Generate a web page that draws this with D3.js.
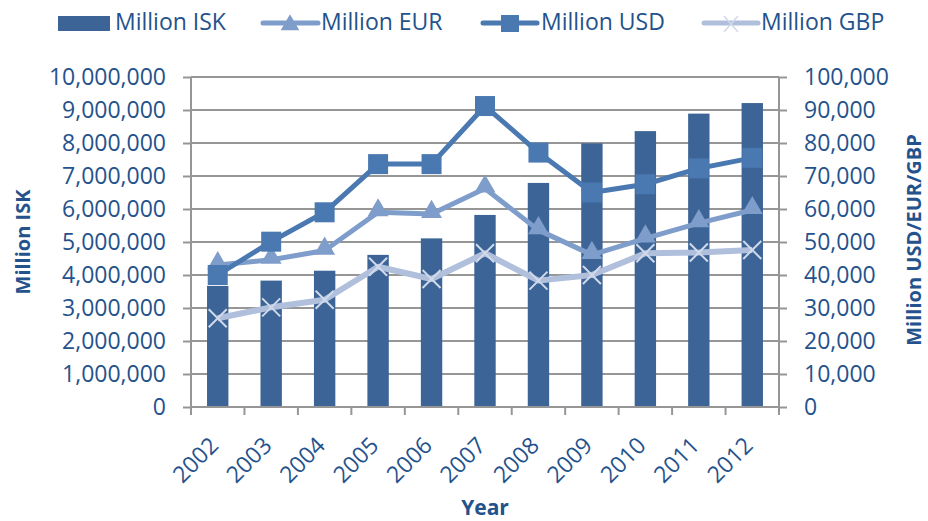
<!DOCTYPE html>
<html lang="en">
<head>
<meta charset="utf-8">
<style>
  body { margin: 0; background: #fff; }
  text { font-family: "Open Sans", sans-serif; fill: #24528c; }
  .grid line { stroke: #969696; stroke-width: 2px; }
</style>
</head>
<body>
<script src="https://cdn.jsdelivr.net/npm/d3@7"></script>
<script>
    // data
    var years = ["2002","2003","2004","2005","2006","2007","2008","2009","2010","2011","2012"];
    var isk = [3670000, 3830000, 4130000, 4610000, 5110000, 5820000, 6790000, 7990000, 8360000, 8890000, 9210000];
    var eur = [43000, 44600, 47400, 59000, 58500, 66200, 53600, 46100, 51100, 55700, 59700];
    var usd = [40000, 50100, 59000, 73600, 73600, 91200, 77100, 65000, 67500, 72300, 75500];
    var gbp = [26900, 30200, 32500, 42500, 38800, 46600, 38300, 40000, 46600, 46800, 47600];
    var leftTicks = [0,1e6,2e6,3e6,4e6,5e6,6e6,7e6,8e6,9e6,10e6];
    var rightTicks = [0,10000,20000,30000,40000,50000,60000,70000,80000,90000,100000];

    var width = 928, height = 521;
    var plot = {left: 191, right: 779, top: 77, bottom: 407};

    var colBar = "#3c6496", colEur = "#7f9dca", colUsd = "#4a78b1", colGbp = "#b0c0dc", colGbpMark = "#d0daeb";

    var svg = d3.select("body").append("svg")
        .attr("width", width)
        .attr("height", height);

    var x = d3.scaleBand().domain(years).range([plot.left, plot.right]).paddingInner(0.6).paddingOuter(0.3);
    var xc = function (d) { return x(d) + x.bandwidth() / 2; };
    var yL = d3.scaleLinear().domain([0, 10e6]).range([plot.bottom, plot.top]);
    var yR = d3.scaleLinear().domain([0, 100000]).range([plot.bottom, plot.top]);
    var fmt = d3.format(",");

    // gridlines
    svg.append("g").attr("class", "grid")
        .selectAll("line").data(leftTicks).enter().append("line")
        .attr("x1", plot.left).attr("x2", plot.right)
        .attr("y1", function (d) { return yL(d); }).attr("y2", function (d) { return yL(d); });

    // bars
    svg.append("g").selectAll("rect").data(years).enter().append("rect")
        .attr("x", function (d) { return x(d); })
        .attr("width", x.bandwidth())
        .attr("y", function (d, i) { return yL(isk[i]); })
        .attr("height", function (d, i) { return plot.bottom - yL(isk[i]); })
        .attr("fill", colBar);

    // axes
    var axL = svg.append("g").attr("transform", "translate(" + plot.left + ",0)")
        .call(d3.axisLeft(yL).tickValues(leftTicks).tickFormat(fmt).tickSize(8).tickPadding(17));
    var axR = svg.append("g").attr("transform", "translate(" + plot.right + ",0)")
        .call(d3.axisRight(yR).tickValues(rightTicks).tickFormat(fmt).tickSize(8).tickPadding(17));
    var xEdges = years.map(function (d) { return x(d) - x.step() * 0.3; }).concat([plot.right]);
    var axB = svg.append("g").attr("transform", "translate(0," + plot.bottom + ")");
    axB.append("line").attr("x1", plot.left).attr("x2", plot.right);
    axB.selectAll(".tk").data(xEdges).enter().append("line")
        .attr("x1", function (d) { return d; }).attr("x2", function (d) { return d; })
        .attr("y1", 0).attr("y2", 8);
    axB.selectAll("text").data(years).enter().append("text")
        .attr("transform", function (d) { return "translate(" + (xc(d) + 2) + ",40) rotate(-45)"; })
        .attr("text-anchor", "end")
        .style("font-size", "23px")
        .text(function (d) { return d; });
    axB.selectAll("line").attr("stroke", "#969696").attr("stroke-width", 2);

    [axL, axR].forEach(function (a) {
        a.select(".domain").remove();
        a.append("line").attr("y1", plot.top).attr("y2", plot.bottom).attr("stroke", "#969696").attr("stroke-width", 2);
        a.selectAll(".tick line").attr("stroke", "#969696").attr("stroke-width", 2);
        a.selectAll(".tick text").style("font-size", "23px").style("font-family", "'Open Sans', sans-serif").attr("fill", "#24528c");
    });

    // axis titles
    svg.append("text").attr("transform", "translate(30,242) rotate(-90)")
        .attr("text-anchor", "middle").style("font-size", "20px").style("font-weight", "bold")
        .text("Million ISK");
    svg.append("text").attr("transform", "translate(921,240) rotate(-90)")
        .attr("text-anchor", "middle").style("font-size", "20px").style("font-weight", "bold")
        .text("Million USD/EUR/GBP");
    svg.append("text").attr("x", 485).attr("y", 515)
        .attr("text-anchor", "middle").style("font-size", "21px").style("font-weight", "bold")
        .text("Year");

    // lines
    function drawLine(vals, color, w) {
        var line = d3.line().x(function (d, i) { return xc(years[i]); }).y(function (d) { return yR(d); });
        svg.append("path").datum(vals).attr("d", line)
            .attr("fill", "none").attr("stroke", color).attr("stroke-width", w).attr("stroke-linejoin", "round");
    }
    var tri = d3.symbol().type(d3.symbolTriangle).size(190);
    var xMark = "M-9,-9L9,9M-9,9L9,-9";

    drawLine(eur, colEur, 5);
    svg.append("g").selectAll("path").data(eur).enter().append("path")
        .attr("d", tri)
        .attr("transform", function (d, i) { return "translate(" + xc(years[i]) + "," + (yR(d) - 2) + ")"; })
        .attr("fill", colEur);

    drawLine(usd, colUsd, 5);
    svg.append("g").selectAll("rect").data(usd).enter().append("rect")
        .attr("x", function (d, i) { return xc(years[i]) - 10; })
        .attr("y", function (d) { return yR(d) - 10; })
        .attr("width", 20).attr("height", 20)
        .attr("fill", colUsd);

    drawLine(gbp, colGbp, 6);
    svg.append("g").selectAll("path").data(gbp).enter().append("path")
        .attr("d", xMark)
        .attr("transform", function (d, i) { return "translate(" + xc(years[i]) + "," + yR(d) + ")"; })
        .attr("stroke", colGbpMark).attr("stroke-width", 2).attr("fill", "none");

    // legend
    var lg = svg.append("g");
    lg.append("rect").attr("x", 58).attr("y", 16).attr("width", 52).attr("height", 15).attr("fill", colBar);
    lg.append("text").attr("x", 115).attr("y", 30).style("font-size", "23px").text("Million ISK");

    lg.append("line").attr("x1", 263).attr("x2", 318).attr("y1", 23).attr("y2", 23)
        .attr("stroke", colEur).attr("stroke-width", 5).attr("stroke-linecap", "round");
    lg.append("path").attr("d", d3.symbol().type(d3.symbolTriangle).size(150)).attr("transform", "translate(290,25)").attr("fill", colEur);
    lg.append("text").attr("x", 321).attr("y", 30).style("font-size", "23px").text("Million EUR");

    lg.append("line").attr("x1", 483).attr("x2", 537).attr("y1", 23).attr("y2", 23)
        .attr("stroke", colUsd).attr("stroke-width", 5).attr("stroke-linecap", "round");
    lg.append("rect").attr("x", 501).attr("y", 15).attr("width", 18).attr("height", 17).attr("fill", colUsd);
    lg.append("text").attr("x", 541).attr("y", 30).style("font-size", "23px").text("Million USD");

    lg.append("line").attr("x1", 704).attr("x2", 758).attr("y1", 23).attr("y2", 23)
        .attr("stroke", colGbp).attr("stroke-width", 5).attr("stroke-linecap", "round");
    lg.append("path").attr("d", "M-7,-8L7,8M-7,8L7,-8").attr("transform", "translate(731,24)")
        .attr("stroke", colGbpMark).attr("stroke-width", 1.5).attr("fill", "none");
    lg.append("text").attr("x", 761).attr("y", 30).style("font-size", "23px").text("Million GBP");
</script>
</body>
</html>
